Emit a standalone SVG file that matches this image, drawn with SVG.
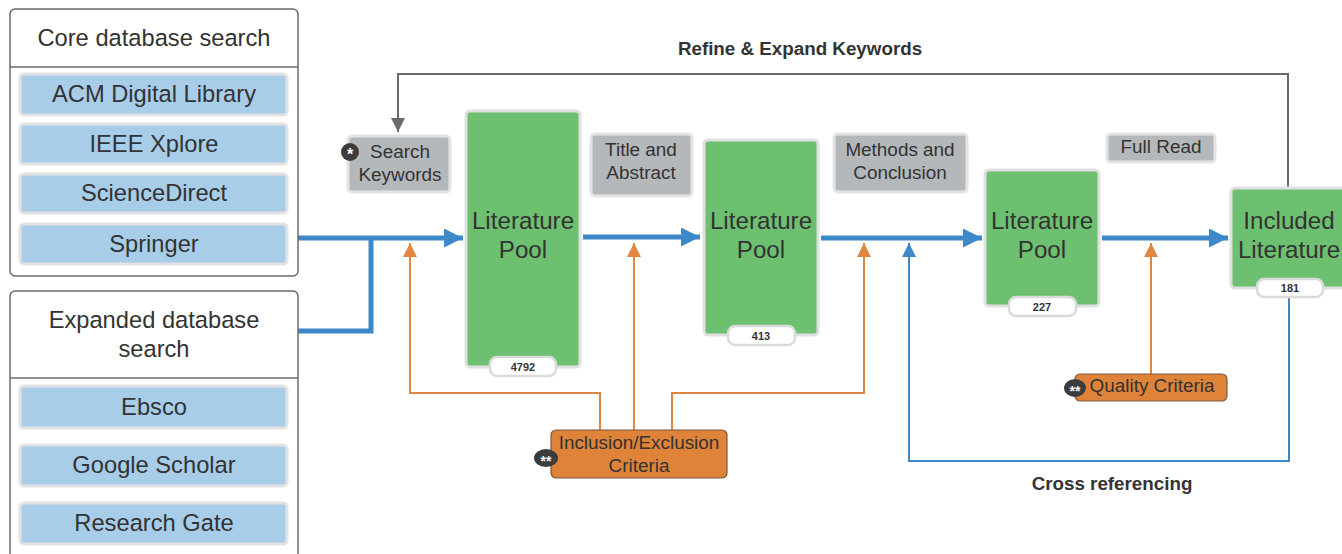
<svg xmlns="http://www.w3.org/2000/svg" width="1342" height="554" viewBox="0 0 1342 554">
<style>
text{font-family:"Liberation Sans",Arial,sans-serif;fill:#333;text-anchor:middle}
.cont{fill:#fff;stroke:#6b6b6b;stroke-width:1.5}
.item{fill:#a8cde9;stroke:#e2e2e2;stroke-width:3}
.it{font-size:23.7px}
.ht{font-size:23.7px}
.green{fill:#6dc070;stroke:#e0e0e0;stroke-width:3}
.gt{font-size:24.2px}
.gray{fill:#b4b8ba;stroke:#e3e3e3;stroke-width:3}
.lt{font-size:18.9px}
.badge{fill:#fff;stroke:#dadada;stroke-width:2.5}
.bt{font-size:11px;font-weight:bold}
.org{fill:#de8338;stroke:#7a5a40;stroke-width:1.2}
.blue{fill:none;stroke:#3c88c8;stroke-width:5}
.bluethin{fill:none;stroke:#3c88c8;stroke-width:2}
.orng{fill:none;stroke:#e0863e;stroke-width:2}
.grayl{fill:none;stroke:#6a6a6a;stroke-width:2}
.lbl{font-size:18.8px;font-weight:bold}
.dot{fill:#3c3c3c}
.dt{fill:#fff;font-weight:bold}
</style>
<defs>
<marker id="ab" viewBox="0 0 10 10" refX="10" refY="5" markerWidth="5.4" markerHeight="3.8" orient="auto" markerUnits="strokeWidth"><path d="M0,0L10,5L0,10z" fill="#3c88c8"/></marker>
<marker id="abt" viewBox="0 0 10 10" refX="10" refY="5" markerWidth="7" markerHeight="7" orient="auto" markerUnits="strokeWidth"><path d="M0,0L10,5L0,10z" fill="#3c88c8"/></marker>
<marker id="ao" viewBox="0 0 10 10" refX="10" refY="5" markerWidth="7" markerHeight="7" orient="auto" markerUnits="strokeWidth"><path d="M0,0L10,5L0,10z" fill="#e0863e"/></marker>
<marker id="ag" viewBox="0 0 10 10" refX="10" refY="5" markerWidth="7" markerHeight="7" orient="auto" markerUnits="strokeWidth"><path d="M0,0L10,5L0,10z" fill="#6a6a6a"/></marker>
</defs>
<rect width="1342" height="554" fill="#fff"/>

<g id="connectors">
<path class="blue" d="M298,238H463" marker-end="url(#ab)"/>
<path class="blue" d="M298,331H371V238"/>
<path class="blue" d="M583,237H700" marker-end="url(#ab)"/>
<path class="blue" d="M821,238H982" marker-end="url(#ab)"/>
<path class="blue" d="M1102,238H1228" marker-end="url(#ab)"/>
<path class="orng" d="M600,430V393H410V243" marker-end="url(#ao)"/>
<path class="orng" d="M634,430V243" marker-end="url(#ao)"/>
<path class="orng" d="M672,430V393H864V243" marker-end="url(#ao)"/>
<path class="orng" d="M1151,374V243" marker-end="url(#ao)"/>
<path class="bluethin" d="M1289,297V461H909V243" marker-end="url(#abt)"/>
<path class="grayl" d="M1288,188V74H398V132" marker-end="url(#ag)"/>
<text class="lbl" x="800" y="55">Refine &amp; Expand Keywords</text>
<text class="lbl" x="1112" y="490">Cross referencing</text>
</g>

<g id="core">
<rect class="cont" x="10" y="9" width="288" height="267" rx="5"/>
<line x1="10" y1="67" x2="298" y2="67" stroke="#6b6b6b" stroke-width="1.5"/>
<text class="ht" x="154" y="46">Core database search</text>
</g>
<g id="acm"><rect class="item" x="20" y="74" width="267" height="41" rx="4"/><text class="it" x="154" y="102">ACM Digital Library</text></g>
<g id="ieee"><rect class="item" x="20" y="124" width="267" height="40" rx="4"/><text class="it" x="154" y="152">IEEE Xplore</text></g>
<g id="sd"><rect class="item" x="20" y="174" width="267" height="39" rx="4"/><text class="it" x="154" y="201">ScienceDirect</text></g>
<g id="springer"><rect class="item" x="20" y="224" width="267" height="40" rx="4"/><text class="it" x="154" y="252">Springer</text></g>

<g id="expanded">
<rect class="cont" x="10" y="291" width="288" height="280" rx="5"/>
<line x1="10" y1="378" x2="298" y2="378" stroke="#6b6b6b" stroke-width="1.5"/>
<text class="ht" x="154" y="328">Expanded database</text>
<text class="ht" x="154" y="357">search</text>
</g>
<g id="ebsco"><rect class="item" x="20" y="386" width="267" height="42" rx="4"/><text class="it" x="154" y="415">Ebsco</text></g>
<g id="scholar"><rect class="item" x="20" y="445" width="267" height="41" rx="4"/><text class="it" x="154" y="473">Google Scholar</text></g>
<g id="rgate"><rect class="item" x="20" y="503" width="267" height="41" rx="4"/><text class="it" x="154" y="531">Research Gate</text></g>

<g id="keywords">
<rect class="gray" x="348" y="136" width="102" height="56" rx="4"/>
<text class="lt" x="400" y="158">Search</text>
<text class="lt" x="400" y="181">Keywords</text>
<circle class="dot" cx="350" cy="152" r="9"/>
<text class="dt" x="350" y="160" style="font-size:16px">*</text>
</g>

<g id="pool1">
<rect class="green" x="466" y="111" width="114" height="256" rx="4"/>
<text class="gt" x="523" y="229">Literature</text>
<text class="gt" x="523" y="258">Pool</text>
<rect class="badge" x="490" y="357" width="66" height="19" rx="7"/>
<text class="bt" x="523" y="371">4792</text>
</g>

<g id="titleabs">
<rect class="gray" x="591" y="134" width="101" height="62" rx="4"/>
<text class="lt" x="641" y="156">Title and</text>
<text class="lt" x="641" y="179">Abstract</text>
</g>

<g id="pool2">
<rect class="green" x="704" y="140" width="114" height="195" rx="4"/>
<text class="gt" x="761" y="229">Literature</text>
<text class="gt" x="761" y="258">Pool</text>
<rect class="badge" x="728" y="326" width="67" height="19" rx="7"/>
<text class="bt" x="761" y="340">413</text>
</g>

<g id="methods">
<rect class="gray" x="834" y="134" width="133" height="58" rx="4"/>
<text class="lt" x="900" y="156">Methods and</text>
<text class="lt" x="900" y="179">Conclusion</text>
</g>

<g id="pool3">
<rect class="green" x="985" y="170" width="114" height="136" rx="4"/>
<text class="gt" x="1042" y="229">Literature</text>
<text class="gt" x="1042" y="258">Pool</text>
<rect class="badge" x="1009" y="297" width="67" height="19" rx="7"/>
<text class="bt" x="1042" y="311">227</text>
</g>

<g id="fullread">
<rect class="gray" x="1107" y="134" width="108" height="28" rx="4"/>
<text class="lt" x="1161" y="153">Full Read</text>
</g>

<g id="included">
<rect class="green" x="1231" y="188" width="118" height="100" rx="4"/>
<text class="gt" x="1289" y="229">Included</text>
<text class="gt" x="1289" y="258">Literature</text>
<rect class="badge" x="1257" y="279" width="66" height="18" rx="7"/>
<text class="bt" x="1290" y="292">181</text>
</g>

<g id="inclusion">
<rect class="org" x="551" y="430" width="176" height="48" rx="5"/>
<text class="lt" x="639" y="449">Inclusion/Exclusion</text>
<text class="lt" x="639" y="472">Criteria</text>
<ellipse class="dot" cx="546" cy="458" rx="12" ry="9"/>
<text class="dt" x="546" y="466" style="font-size:14px">**</text>
</g>

<g id="quality">
<rect class="org" x="1075" y="374" width="152" height="27" rx="5"/>
<text class="lt" x="1152" y="392">Quality Criteria</text>
<ellipse class="dot" cx="1075" cy="388" rx="11" ry="9"/>
<text class="dt" x="1075" y="396" style="font-size:14px">**</text>
</g>
</svg>
